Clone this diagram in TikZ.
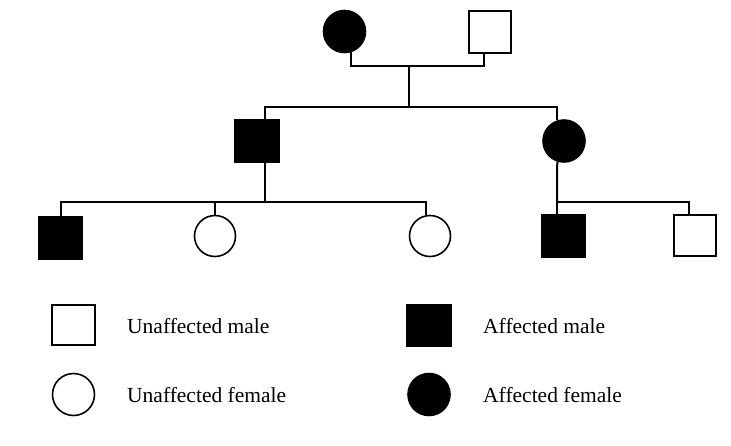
\documentclass[tikz,border=0pt]{standalone}
\usepackage{fontspec}
\setmainfont{Liberation Serif}
\usepackage{tikz}

\begin{document}
\begin{tikzpicture}[x=1pt,y=-1pt]
	\tikzset{male/.style={draw,rectangle,line width=2pt,minimum size=42pt,inner sep=0pt}}
	\tikzset{female/.style={draw,circle,line width=1.6pt,minimum size=42pt,inner sep=0pt}}
	\tikzset{affected/.style={fill=black}}
	\tikzset{legendtext/.style={anchor=base west,inner sep=0pt,font=\fontsize{21.5}{24}\selectfont}}
	\useasboundingbox (0,0) rectangle (731,445);

	    % generation I
	    \node[female,affected] (a1) at (344.5,31.5) {};
	    \node[male] (a2) at (490,31.5) {};
	    \coordinate (m1) at (409,66);
	    \coordinate (s1) at (409,107);
	    \draw[line width=2pt] (a1.-73) |- (m1) -| ([xshift=-6pt]a2.south);
	    \draw[line width=2pt] (m1) -- (s1);

	    % generation II
	    \node[male,affected,minimum width=44pt] (b1) at (257,141) {};
	    \node[female,affected] (b2) at (564,141) {};
	    \draw[line width=2pt] ([xshift=8pt]b1.north) |- (s1) -| (b2.108);
	    \coordinate (s2) at (265,202);
	    \coordinate (s3) at (557,202);
	    \draw[line width=2pt] ([xshift=8pt]b1.south) -- (s2);
	    \draw[line width=2pt] (b2.-108) -- (s3);

	    % generation III
	    \node[male,affected,minimum width=43pt] (c1) at (60.5,238) {};
	    \node[female,minimum size=41pt] (c2) at (215,236) {};
	    \node[female,minimum size=41pt] (c3) at (430,236) {};
	    \node[male,affected,minimum width=43pt] (c4) at (563.5,236) {};
	    \node[male,minimum size=41.5pt] (c5) at (695,235.5) {};
	    \draw[line width=2pt] (c1.north) |- (s2) -| (c3.100);
	    \draw[line width=2pt] (c2.north) -- (c2.north |- s2);
	    \draw[line width=2pt] ([xshift=-6.5pt]c4.north) |- (s3) -| ([xshift=-6pt]c5.north);

	    % legend
	    \node[male,minimum width=43pt,minimum height=40pt] (lum) at (73.5,325) {};
	    \node[female,minimum size=42pt] (luf) at (73.5,394.5) {};
	    \node[male,affected,minimum width=44pt,minimum height=41pt] (lam) at (429,325.5) {};
	    \node[female,affected,minimum size=42pt] (laf) at (429,394.5) {};
	    \node[legendtext] (tum) at (127,333) {Unaffected male};
	    \node[legendtext] (tuf) at (127,402) {Unaffected female};
	    \node[legendtext] (tam) at (483,333) {Affected male};
	    \node[legendtext] (taf) at (483,402) {Affected female};

\end{tikzpicture}
\end{document}
